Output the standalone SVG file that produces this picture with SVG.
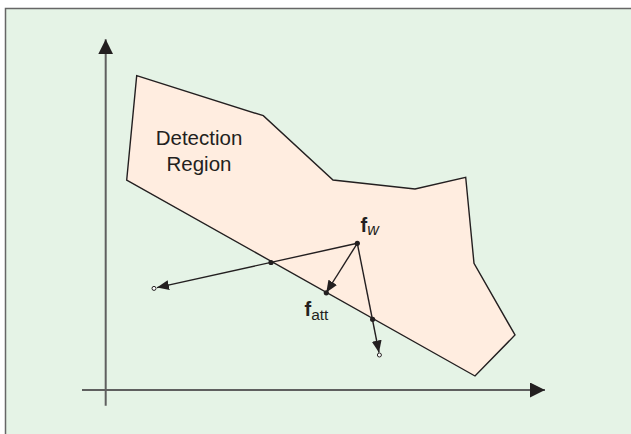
<svg xmlns="http://www.w3.org/2000/svg" width="631" height="434" viewBox="0 0 631 434">
<defs>
<style>
.lbl{font-family:"Liberation Sans",Arial,sans-serif;fill:#231f20}
.vec{stroke:#231f20;stroke-width:1.4;fill:none}
.axis{stroke:#5f5f5f;stroke-width:2;fill:none}
.dot{fill:#231f20}
.open{fill:#fff;stroke:#231f20;stroke-width:1}
</style>
<marker id="ah" markerUnits="userSpaceOnUse" markerWidth="12" markerHeight="10" refX="12" refY="5" orient="auto" viewBox="0 0 12 10">
<path d="M0,0 L12,5 L0,10 z" fill="#231f20"/>
</marker>
<marker id="axh" markerUnits="userSpaceOnUse" markerWidth="15" markerHeight="15" refX="15" refY="7.5" orient="auto" viewBox="0 0 15 15">
<path d="M0,0 L15,7.5 L0,15 z" fill="#231f20"/>
</marker>
</defs>
<rect x="0" y="0" width="631" height="434" fill="#ffffff"/>
<rect id="frame" x="5.5" y="8.5" width="640" height="440" fill="#e5f3e6" stroke="#666666" stroke-width="1.5"/>
<g id="detection-region">
<polygon points="136.7,75.7 263.3,115.7 333,180 415,189 465.7,177.3 474,263.3 515,335 475,376 126.7,180" fill="#ffede0" stroke="#231f20" stroke-width="1.4"/>
<text class="lbl" x="199" y="144.5" font-size="20.5" text-anchor="middle">Detection</text>
<text class="lbl" x="199" y="170.5" font-size="20.5" text-anchor="middle">Region</text>
</g>
<g id="axes">
<line class="axis" x1="105.7" y1="405.7" x2="105.7" y2="39.3" marker-end="url(#axh)"/>
<line class="axis" x1="82" y1="390" x2="545" y2="390" marker-end="url(#axh)"/>
</g>
<g id="connectors">
<line class="vec" x1="357.3" y1="243.3" x2="157" y2="287.6" marker-end="url(#ah)"/>
<line class="vec" x1="357.3" y1="243.3" x2="326.3" y2="292.5" marker-end="url(#ah)"/>
<line class="vec" x1="357.3" y1="243.3" x2="379" y2="352.5" marker-end="url(#ah)"/>
</g>
<g id="points">
<circle class="dot" cx="357.3" cy="243.3" r="2.6"/>
<circle class="dot" cx="271" cy="262.5" r="2.6"/>
<circle class="dot" cx="326.3" cy="292.8" r="2.6"/>
<circle class="dot" cx="372.6" cy="319.3" r="2.6"/>
<circle class="open" cx="154" cy="288.4" r="2"/>
<circle class="open" cx="379.4" cy="355" r="2"/>
</g>
<g id="label-fw">
<text class="lbl" x="360.5" y="231.7" font-size="20" font-weight="bold">f<tspan font-size="16" font-weight="normal" font-style="italic" dy="3.3">w</tspan></text>
</g>
<g id="label-fatt">
<text class="lbl" x="304.5" y="315.7" font-size="20" font-weight="bold">f<tspan font-size="15.5" font-weight="normal" dy="4.3">att</tspan></text>
</g>
</svg>
